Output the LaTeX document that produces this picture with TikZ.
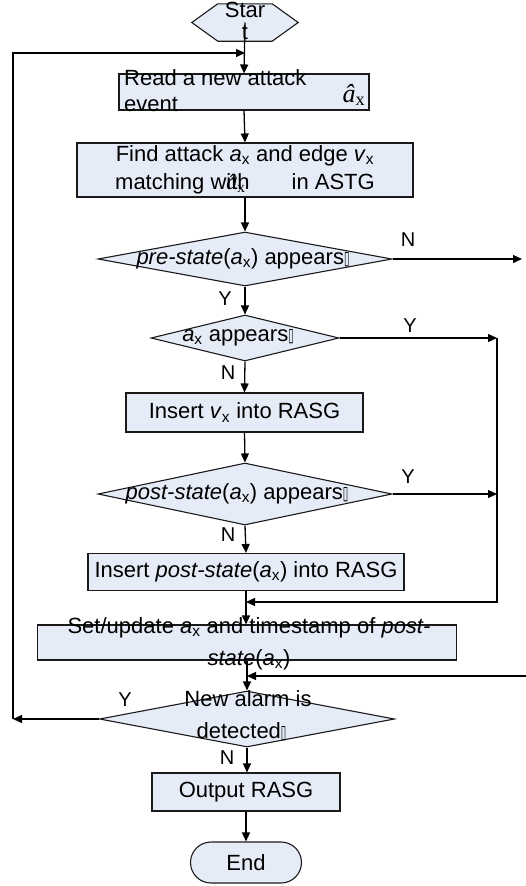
\documentclass[tikz,border=0pt]{standalone}
\usepackage{fontspec}
\setmainfont{Liberation Sans}
\newfontfamily\serifface{Liberation Serif}
\newfontfamily\djv{DejaVu Sans}
\usepackage{graphicx}
\usetikzlibrary{shapes.geometric,shapes.misc,arrows.meta}
\definecolor{boxfill}{HTML}{E6ECF7}
\definecolor{boxline}{HTML}{1A1A1A}
\newcommand{\ax}{\textit{a}\textsubscript{x}}
\newcommand{\vx}{\textit{v}\textsubscript{x}}
\newcommand{\qbox}{\scalebox{0.45}[0.85]{\djv ▯}}
\newcommand{\ahat}{{\serifface\itshape â}\textsubscript{\serifface x}}
\begin{document}
\begin{tikzpicture}[x=1pt,y=-1pt,
  shp/.style={draw=boxline, fill=boxfill, line width=1.1pt, inner sep=0pt},
  boxs/.style={shp, rectangle},
  dia/.style={shp, diamond},
  txt/.style={font=\fontsize{22}{26}\selectfont, inner sep=0pt, align=center},
  lbl/.style={font=\fontsize{20}{20}\selectfont, inner sep=0pt},
  arr/.style={line width=1.3pt, -{Triangle[length=9pt,width=8pt]}},
  ln/.style={line width=1.3pt}]
\useasboundingbox (0,0) rectangle (526,886);

% start hexagon
\node[inner sep=0pt, minimum width=106pt, minimum height=37pt] (start) at (245,22.5) {};
\draw[shp] (start.west) -- ([xshift=26pt]start.north west) -- ([xshift=-26pt]start.north east)
  -- (start.east) -- ([xshift=-26pt]start.south east) -- ([xshift=26pt]start.south west) -- cycle;

% shapes
\node[boxs, minimum width=250pt, minimum height=36pt] (read) at (244,92) {};
\node[boxs, minimum width=336pt, minimum height=54pt] (find) at (245,170) {};
\node[dia, minimum width=294pt, minimum height=54pt] (d1) at (245,259) {};
\node[dia, minimum width=188pt, minimum height=46pt] (d2) at (245,338) {};
\node[boxs, minimum width=237pt, minimum height=39pt] (ins1) at (244.5,412.5) {};
\node[dia, minimum width=294pt, minimum height=62pt] (d3) at (245,494) {};
\node[boxs, minimum width=316pt, minimum height=37pt] (ins2) at (246,572) {};
\node[boxs, minimum width=419pt, minimum height=35pt] (set) at (247,642.5) {};
\node[dia, minimum width=295pt, minimum height=56pt] (d4) at (247,719) {};
\node[boxs, minimum width=188pt, minimum height=38pt] (out) at (246,792) {};
\node[shp, rounded rectangle, minimum width=111pt, minimum height=41pt] (end) at (246,862.5) {};

% texts
\node[txt, font=\fontsize{22}{22}\selectfont] (tstart) at (245,21) {Star\\t};
\node[txt, align=left, anchor=west] (tread) at (124,91) {Read a new attack\\event};
\node[inner sep=0pt, font=\fontsize{26}{26}\selectfont] (tahat) at (354,95) {\ahat};
\node[txt, font=\fontsize{22}{28}\selectfont] (tfind) at (245,170)
  {Find attack \ax{} and edge \vx\\matching w\rlap{\ahat}ith\hspace{42pt}in ASTG};
\node[txt] (td1) at (243,259) {\textit{pre-state}(\ax) appears\qbox};
\node[txt] (td2) at (238,338) {\ax{} appears\qbox};
\node[txt] (tins1) at (244.5,412.5) {Insert \vx{} into RASG};
\node[txt] (td3) at (237,494) {\textit{post-state}(\ax) appears\qbox};
\node[txt] (tins2) at (246,572) {Insert \textit{post-state}(\ax) into RASG};
\node[txt, font=\fontsize{22}{32}\selectfont] (tset) at (249,644)
  {Set/update \ax{} and timestamp of \textit{post-}\\\textit{state}(\ax)};
\node[txt, font=\fontsize{22}{32}\selectfont] (td4) at (248,716) {New alarm is\\detected\qbox\kern13pt};
\node[txt] (tout) at (246,792) {Output RASG};
\node[txt] (tend) at (246,862.5) {End};

% labels
\node[lbl] (ln1) at (408,240) {N};
\node[lbl] (ly1) at (225,299) {Y};
\node[lbl] (ly2) at (410,326) {Y};
\node[lbl] (ln2) at (228,373) {N};
\node[lbl] (ly3) at (408,477) {Y};
\node[lbl] (ln3) at (228,535) {N};
\node[lbl] (ly4) at (125,700) {Y};
\node[lbl] (ln4) at (227,758) {N};

% helper coordinates
\coordinate (topjoin) at (245,53);
\coordinate (lp) at (13,719);
\coordinate (n1end) at (522,259);
\coordinate (rv) at (497,338);
\coordinate (rvb) at (497,602);
\coordinate (rin) at (526,676);

% connectors
\draw[arr] (start.center) -- (read.north);
\draw[arr] (read.south) -- (find.north);
\draw[arr] (find.south) -- (d1.north);
\draw[arr] (d1.east) -- (n1end);
\draw[arr] (d1.south) -- (d2.north);
\draw[arr] (d2.east) -- (rv);
\draw[arr] (rv) |- (ins2.south |- rvb);
\draw[arr] (d2.south) -- (ins1.north);
\draw[arr] (ins1.south) -- (d3.north);
\draw[arr] (d3.east) -- (d3.east -| rv);
\draw[arr] (d3.south) -- (ins2.north);
\draw[arr] (ins2.south) -- (ins2.south |- set.north);
\draw[arr] (set.south) -- (d4.north);
\draw[arr] (rin) -- (set.south |- rin);
\draw[arr] (d4.west) -- (lp);
\draw[arr] (lp) |- (topjoin);
\draw[arr] (d4.south) -- (d4.south |- out.north);
\draw[arr] (out.south) -- (out.south |- end.north);
\end{tikzpicture}
\end{document}
